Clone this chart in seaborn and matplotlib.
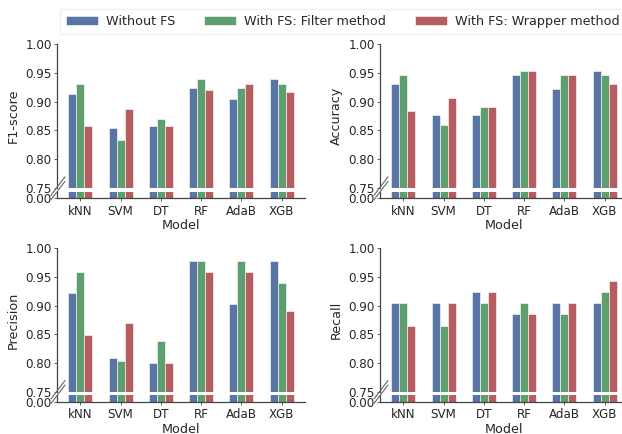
import numpy as np
import pandas as pd
import matplotlib
matplotlib.use("Agg")
import matplotlib.pyplot as plt
import seaborn as sns

models = ["kNN", "SVM", "DT", "RF", "AdaB", "XGB"]
methods = ["Without FS", "With FS: Filter method", "With FS: Wrapper method"]

f1_none = [0.913, 0.855, 0.857, 0.923, 0.904, 0.940]
f1_filter = [0.931, 0.833, 0.870, 0.940, 0.923, 0.931]
f1_wrapper = [0.857, 0.887, 0.857, 0.920, 0.931, 0.916]

acc_none = [0.930, 0.876, 0.876, 0.946, 0.922, 0.953]
acc_filter = [0.946, 0.859, 0.891, 0.953, 0.946, 0.946]
acc_wrapper = [0.884, 0.907, 0.891, 0.953, 0.946, 0.930]

prec_none = [0.922, 0.809, 0.800, 0.978, 0.903, 0.978]
prec_filter = [0.959, 0.803, 0.838, 0.978, 0.978, 0.940]
prec_wrapper = [0.848, 0.869, 0.800, 0.958, 0.959, 0.891]

rec_none = [0.904, 0.904, 0.923, 0.885, 0.904, 0.904]
rec_filter = [0.904, 0.865, 0.904, 0.904, 0.885, 0.923]
rec_wrapper = [0.865, 0.904, 0.923, 0.885, 0.904, 0.942]

metrics = {
    "F1-score": (f1_none, f1_filter, f1_wrapper),
    "Accuracy": (acc_none, acc_filter, acc_wrapper),
    "Precision": (prec_none, prec_filter, prec_wrapper),
    "Recall": (rec_none, rec_filter, rec_wrapper),
}

sns.set_theme(style="white")
plt.rcParams["font.family"] = ["DejaVu Sans"]
deep = sns.color_palette("deep")
palette = [deep[0], deep[2], deep[3]]

W, H = 622, 434
fig = plt.figure(figsize=(W / 100, H / 100), dpi=100)


def frac(x0, y_top, w, h):
    # pixel box -> figure fraction
    return [x0 / W, 1 - (y_top + h) / H, w / W, h / H]


# panel boxes in pixels: (left, top of upper axis, bottom of lower axis)
panels = [(57, 44, 198.3), (380, 44, 198.3), (57, 248, 402), (380, 248, 402)]
ax_w = 248
low_h = 6.6
gap = 3.6


def make_df(vals):
    rows = []
    for m, series in zip(methods, vals):
        for mod, v in zip(models, series):
            rows.append({"Model": mod, "Method": m, "value": v})
    return pd.DataFrame(rows)


handles = None
for (name, vals), (x0, top, bot) in zip(metrics.items(), panels):
    df = make_df(vals)
    up_bottom = bot - low_h - gap
    ax_up = fig.add_axes(frac(x0, top, ax_w, up_bottom - top))
    ax_lo = fig.add_axes(frac(x0, bot - low_h, ax_w, low_h))
    for ax in (ax_up, ax_lo):
        sns.barplot(data=df, x="Model", y="value", hue="Method", ax=ax,
                    palette=palette, width=0.6, edgecolor="white",
                    linewidth=0.4, legend=True)
        ax.set_xlim(-0.58, 5.58)
        handles, labels = ax.get_legend_handles_labels()
        ax.get_legend().remove()
        for s in ("top", "right"):
            ax.spines[s].set_visible(False)
        ax.spines["left"].set_color("#444444")
        ax.spines["bottom"].set_color("#444444")
        ax.spines["left"].set_linewidth(0.9)
        ax.spines["bottom"].set_linewidth(0.9)
        ax.tick_params(axis="both", which="major", color="#444444", width=0.6)

    ticks = [0.75, 0.80, 0.85, 0.90, 0.95, 1.00]
    ax_up.set_ylim(0.75, 1.0)
    ax_up.set_yticks(ticks)
    ax_up.set_yticklabels([f"{t:.2f}" for t in ticks])
    ax_up.spines["bottom"].set_visible(False)
    ax_up.set_xticks([])
    ax_up.set_xlabel("")
    ax_up.set_ylabel(name, fontsize=9.2, labelpad=4)
    ax_up.tick_params(axis="y", labelsize=8.6, length=2.5, pad=1.2, left=True)

    ax_lo.set_ylim(0, 0.01)
    ax_lo.set_yticks([0])
    ax_lo.set_yticklabels(["0.00"])
    ax_lo.tick_params(axis="y", labelsize=8.6, length=2.5, pad=1.2, left=True)
    ax_lo.tick_params(axis="x", labelsize=8.6, length=2, pad=2.5, bottom=True)
    ax_lo.set_ylabel("")
    ax_lo.set_xlabel("Model", fontsize=9.2, labelpad=1)

    # break marks on the left spine
    for dy in (0, 4.5):
        xs = [x0 - 6, x0 + 8]
        ys = [bot + 1.5 - dy, bot - 17 - dy]
        fig.add_artist(plt.Line2D([x / W for x in xs], [1 - y / H for y in ys],
                                  color="#666666", linewidth=0.8))

fig.legend(handles, methods, loc="upper center", bbox_to_anchor=(0.551, 0.995),
           ncol=3, fontsize=9.2, frameon=True, edgecolor="#eeeeee",
           handlelength=2.5, handleheight=0.75, handletextpad=0.6,
           columnspacing=2.3, borderpad=0.5, fancybox=False)

fig.savefig("out.png", dpi=100)
